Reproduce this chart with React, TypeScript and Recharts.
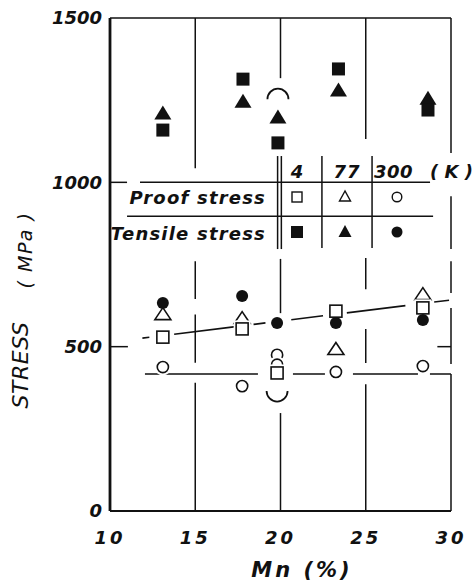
import { ScatterChart, Scatter, XAxis, YAxis, ReferenceLine, Customized } from "recharts";

// Mn content (%) of the specimens, upper (tensile) and lower groups
const mnUpper = [13.1, 17.8, 19.85, 23.4, 28.65];
const mnLower = [13.1, 17.75, 19.8, 23.25, 28.35];

// stress values (MPa)
const tensile4K = [1159, 1314, 1120, 1345, 1220];
const tensile77K = [1211, 1247, 1199, 1281, 1256];
const tensile300K = [633, 654, 572, 572, 581];
const proof4K = [529, 554, 420, 608, 618];
const proof77KMn = [13.1, 17.75, 23.25, 28.35];
const proof77K = [599, 587, 493, 660];
const proof300KMn = [13.1, 17.75, 19.8, 19.8, 23.25, 28.35];
const proof300K = [438, 380, 475, 445, 423, 441];

// the bracket arcs around the 20% Mn group
const bracketMn = [19.85, 19.8];
const bracketStress = [1253, 365];
const bracketDir = ["up", "down"];

const xTicks = [10, 15, 20, 25, 30];
const yTicks = [0, 500, 1000, 1500];

const pts = (xs: number[], ys: number[]) => ys.map((y, i) => ({ x: xs[i], y }));

// broken vertical grid lines: [x, [from, to] ...]
const gridRuns: [number, number[][]][] = [
  [15, [[0, 390], [451, 598], [645, 760], [1043, 1500]]],
  [20, [[0, 298], [602, 767], [1317, 1500]]],
  [19.83, [[797, 1080]]],
  [20.05, [[797, 1080]]],
  [22.43, [[800, 1080]]],
  [25.37, [[800, 1080]]],
  [25, [[0, 386], [450, 554], [675, 770], [1132, 1500]]],
  [30, [[0, 417], [447, 618], [663, 760], [797, 958], [1089, 1500]]],
];

const FONT = "'DejaVu Sans', sans-serif";
const INK = "#111";

const OpenSquare = (p: any) => (
  <g>
    <rect x={p.cx - 8.5} y={p.cy - 8.5} width={17} height={17} fill="#fff" />
    <rect x={p.cx - 6} y={p.cy - 6} width={12} height={12} fill="#fff" stroke={INK} strokeWidth={1.6} />
  </g>
);
const FilledSquare = (p: any) => (
  <rect x={p.cx - 6.5} y={p.cy - 6.5} width={13} height={13} fill={INK} />
);
const OpenTriangle = (p: any) => (
  <g>
    <path d={`M${p.cx},${p.cy - 10} L${p.cx - 11},${p.cy + 8} L${p.cx + 11},${p.cy + 8} Z`} fill="#fff" />
    <path d={`M${p.cx},${p.cy - 6.5} L${p.cx - 8},${p.cy + 5.5} L${p.cx + 8},${p.cy + 5.5} Z`} fill="#fff" stroke={INK} strokeWidth={1.6} strokeLinejoin="miter" />
  </g>
);
const FilledTriangle = (p: any) => (
  <path d={`M${p.cx},${p.cy - 7.5} L${p.cx - 8.5},${p.cy + 6.5} L${p.cx + 8.5},${p.cy + 6.5} Z`} fill={INK} />
);
const OpenCircle = (p: any) => (
  <g>
    <circle cx={p.cx} cy={p.cy} r={8.5} fill="#fff" />
    <circle cx={p.cx} cy={p.cy} r={5.6} fill="#fff" stroke={INK} strokeWidth={1.6} />
  </g>
);
const FilledCircle = (p: any) => <circle cx={p.cx} cy={p.cy} r={6} fill={INK} />;

const Bracket = (p: any) => {
  const up = p.payload && p.payload.dir === "up";
  const r = 10.5;
  return (
    <path
      d={`M${p.cx - r},${p.cy} A${r},${r} 0 0 ${up ? 1 : 0} ${p.cx + r},${p.cy}`}
      fill="none"
      stroke={INK}
      strokeWidth={1.8}
    />
  );
};

const txt = { fontFamily: FONT, fontStyle: "italic" as const, fontWeight: 600, fill: INK };
const thin = { fontFamily: FONT, fontStyle: "italic" as const, fill: INK };

const Annotations = () => (
  <g>
    {/* legend table */}
    <text x={297} y={178} fontSize={18} textAnchor="middle" {...txt}>4</text>
    <text x={347} y={178} fontSize={18} textAnchor="middle" letterSpacing={1} {...txt}>77</text>
    <text x={374} y={178} fontSize={18} letterSpacing={0.5} {...txt}>300</text>
    <text x={430} y={178} fontSize={18} letterSpacing={0} {...txt}>( K )</text>
    <text x={266} y={204} fontSize={18} textAnchor="end" letterSpacing={1.2} {...txt}>Proof stress</text>
    <text x={266} y={240} fontSize={18} textAnchor="end" letterSpacing={1.2} {...txt}>Tensile stress</text>
    <rect x={292} y={192} width={10} height={10} fill="#fff" stroke={INK} strokeWidth={1.4} />
    <path d="M345,191 L339.5,201 L350.5,201 Z" fill="#fff" stroke={INK} strokeWidth={1.4} />
    <circle cx={397} cy={197} r={4.8} fill="#fff" stroke={INK} strokeWidth={1.4} />
    <rect x={291} y={226} width={12} height={12} fill={INK} />
    <path d="M345,225 L338.5,237 L351.5,237 Z" fill={INK} />
    <circle cx={397} cy={232} r={5.5} fill={INK} />
    {/* axis titles */}
    <text x={302} y={577} fontSize={21} textAnchor="middle" letterSpacing={3} {...txt}>Mn (%)</text>
    <text transform="translate(28,365) rotate(-90)" fontSize={22} textAnchor="middle" letterSpacing={0.5} {...thin}>STRESS</text>
    <text transform="translate(32,250) rotate(-90)" fontSize={19} textAnchor="middle" letterSpacing={1.5} {...thin}>( MPa )</text>
  </g>
);

const tickStyle = { fontSize: 18, fontFamily: FONT, fontStyle: "italic", fontWeight: 600, fill: INK };

export default function App() {
  return (
    <div style={{ position: "absolute", left: 0, top: 0, background: "#fff" }}>
      <ScatterChart width={475} height={586} margin={{ top: 18, right: 24, bottom: 35, left: 10 }}>
        <XAxis
          type="number"
          dataKey="x"
          domain={[10, 30]}
          ticks={xTicks}
          allowDataOverflow
          height={40}
          tickLine={false}
          tickMargin={14}
          axisLine={{ stroke: INK, strokeWidth: 2.2 }}
          tick={{ ...tickStyle, letterSpacing: 3 }}
        />
        <YAxis
          type="number"
          dataKey="y"
          domain={[0, 1500]}
          ticks={yTicks}
          allowDataOverflow
          width={100}
          tickLine={false}
          axisLine={{ stroke: INK, strokeWidth: 2.8 }}
          tick={tickStyle}
        />
        <ReferenceLine y={1500} stroke={INK} strokeWidth={1.6} />
        {gridRuns.map(([x, runs]) =>
          runs.map(([a, b], j) => (
            <ReferenceLine
              key={`g${x}-${j}`}
              segment={[{ x, y: a }, { x, y: b }]}
              stroke={INK}
              strokeWidth={1.5}
              ifOverflow="visible"
            />
          ))
        )}
        {/* inner ticks */}
        <ReferenceLine segment={[{ x: 10, y: 1000 }, { x: 11, y: 1000 }]} stroke={INK} strokeWidth={1.5} />
        <ReferenceLine segment={[{ x: 10, y: 500 }, { x: 11.05, y: 500 }]} stroke={INK} strokeWidth={1.5} />
        <ReferenceLine segment={[{ x: 29.2, y: 500 }, { x: 30, y: 500 }]} stroke={INK} strokeWidth={1.5} />
        {/* legend table rules */}
        <ReferenceLine segment={[{ x: 11.76, y: 1000 }, { x: 28.77, y: 1000 }]} stroke={INK} strokeWidth={1.5} />
        <ReferenceLine segment={[{ x: 11.0, y: 897 }, { x: 28.95, y: 897 }]} stroke={INK} strokeWidth={1.5} />
        {/* fitted lines */}
        <ReferenceLine
          segment={[{ x: 11.9, y: 526 }, { x: 30, y: 642 }]}
          stroke={INK}
          strokeWidth={1.6}
          strokeDasharray="7 25 62 18 12 26 32 24 59 29 15"
          ifOverflow="visible"
        />
        <ReferenceLine
          segment={[{ x: 12.05, y: 417 }, { x: 30, y: 417 }]}
          stroke={INK}
          strokeWidth={1.6}
          strokeDasharray="113 35 32 28 65 12 21"
          ifOverflow="visible"
        />
        <Scatter data={pts(proof300KMn, proof300K)} shape={OpenCircle} isAnimationActive={false} />
        <Scatter data={pts(proof77KMn, proof77K)} shape={OpenTriangle} isAnimationActive={false} />
        <Scatter data={pts(mnLower, proof4K)} shape={OpenSquare} isAnimationActive={false} />
        <Scatter data={pts(mnLower, tensile300K)} shape={FilledCircle} isAnimationActive={false} />
        <Scatter data={pts(mnUpper, tensile77K)} shape={FilledTriangle} isAnimationActive={false} />
        <Scatter data={pts(mnUpper, tensile4K)} shape={FilledSquare} isAnimationActive={false} />
        <Scatter
          data={bracketMn.map((x, i) => ({ x, y: bracketStress[i], dir: bracketDir[i] }))}
          shape={Bracket}
          isAnimationActive={false}
        />
        <Customized component={<Annotations />} />
      </ScatterChart>
    </div>
  );
}
